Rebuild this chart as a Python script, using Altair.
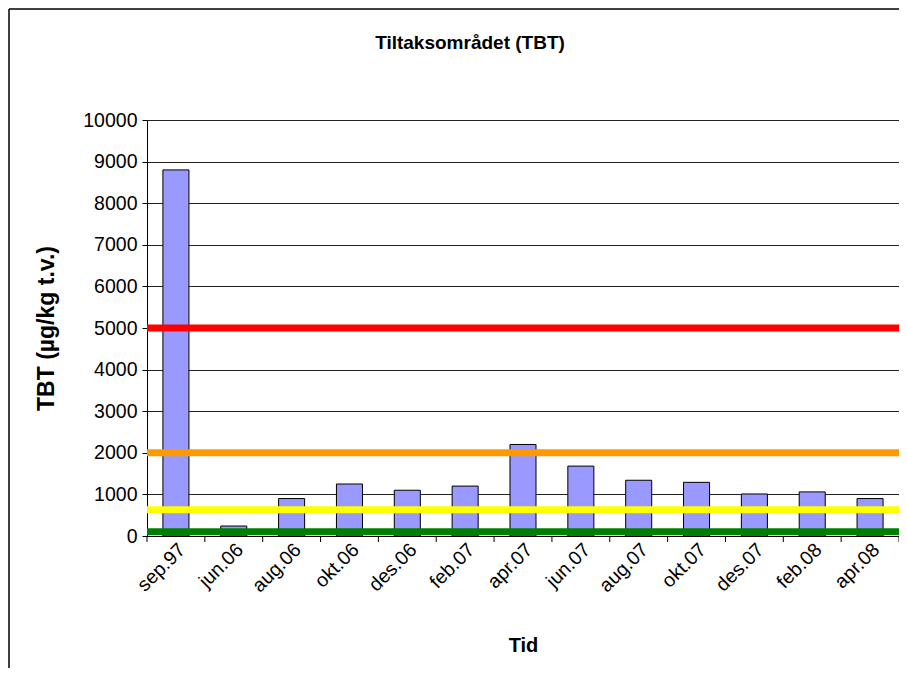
import altair as alt
import pandas as pd

categories = ["sep.97", "jun.06", "aug.06", "okt.06", "des.06", "feb.07", "apr.07",
              "jun.07", "aug.07", "okt.07", "des.07", "feb.08", "apr.08"]
tbt_values = [8800, 240, 900, 1250, 1100, 1200, 2200, 1680, 1340, 1290, 1010, 1060, 900]
limit_values = [5000, 2000, 630, 100]
limit_colors = ["#FF0000", "#FF9900", "#FFFF00", "#008000"]
y_ticks = [0, 1000, 2000, 3000, 4000, 5000, 6000, 7000, 8000, 9000, 10000]
chart_title = ["Tiltaksområdet (TBT)"]

FONT = "Liberation Sans"
LABEL_SIZE = 19.5

bars_df = pd.DataFrame({"Tid": categories, "TBT": tbt_values})
limits_df = pd.DataFrame({"limit": limit_values, "color": limit_colors})
last_df = pd.DataFrame({"Tid": categories[-1:]})
title_df = pd.DataFrame({"t": chart_title})
one_df = pd.DataFrame({"a": [0]})

xscale = alt.Scale(domain=categories, paddingInner=0, paddingOuter=0)
yscale = alt.Scale(domain=[0, 10000], nice=False)

frame_left = alt.Chart(one_df).mark_rule(color="black", strokeWidth=1.5).encode(
    x=alt.value(-138), y=alt.value(-111), y2=alt.value(548)
)
frame_top = alt.Chart(one_df).mark_rule(color="black", strokeWidth=1.5).encode(
    x=alt.value(-138), x2=alt.value(752), y=alt.value(-111)
)

title = alt.Chart(title_df).mark_text(
    font=FONT, fontSize=19, fontWeight="bold", color="black",
    align="center", baseline="alphabetic"
).encode(text="t:N", x=alt.value(323), y=alt.value(-71))

bars = alt.Chart(bars_df).mark_bar(
    fill="#9999FF", stroke="black", strokeWidth=1, width=alt.RelativeBandSize(0.45)
).encode(
    x=alt.X("Tid:N", sort=categories, scale=xscale, title="Tid",
            axis=alt.Axis(labelAngle=-45, ticks=False, labelFont=FONT,
                          labelFontSize=LABEL_SIZE, labelColor="black", titleFont=FONT,
                          titleFontSize=20, titleFontWeight="bold",
                          titleColor="black", titlePadding=40, domainColor="black",
                          labelPadding=4, grid=False)),
    y=alt.Y("TBT:Q", scale=yscale, title="TBT (µg/kg t.v.)",
            axis=alt.Axis(values=y_ticks, format="d", labelFont=FONT,
                          labelFontSize=LABEL_SIZE, labelColor="black",
                          titleFont=FONT, titleFontSize=23, titleFontWeight="bold",
                          titleColor="black", titlePadding=24, domainColor="black",
                          tickColor="black", tickSize=5, labelPadding=5,
                          grid=True, gridColor="#222222", gridWidth=1)),
)

xticks = alt.Chart(bars_df).mark_rule(color="black", strokeWidth=1).encode(
    x=alt.X("Tid:N", sort=categories, scale=xscale, bandPosition=0),
    y=alt.value(416), y2=alt.value(422),
)
xtick_last = alt.Chart(last_df).mark_rule(color="black", strokeWidth=1).encode(
    x=alt.X("Tid:N", sort=categories, scale=xscale, bandPosition=1),
    y=alt.value(416), y2=alt.value(422),
)

limits = alt.Chart(limits_df).mark_rule(strokeWidth=7).encode(
    y=alt.Y("limit:Q", scale=yscale),
    color=alt.Color("color:N", scale=None),
)

chart = alt.layer(frame_left, frame_top, title, bars, limits, xticks, xtick_last).properties(
    width=752, height=416,
    autosize=alt.AutoSizeParams(type="none"),
    padding={"left": 139, "top": 112, "right": 0, "bottom": 140},
).configure_view(stroke=None).configure(background="white")

chart.save("out.html", embed_options={"renderer": "svg", "actions": False})
